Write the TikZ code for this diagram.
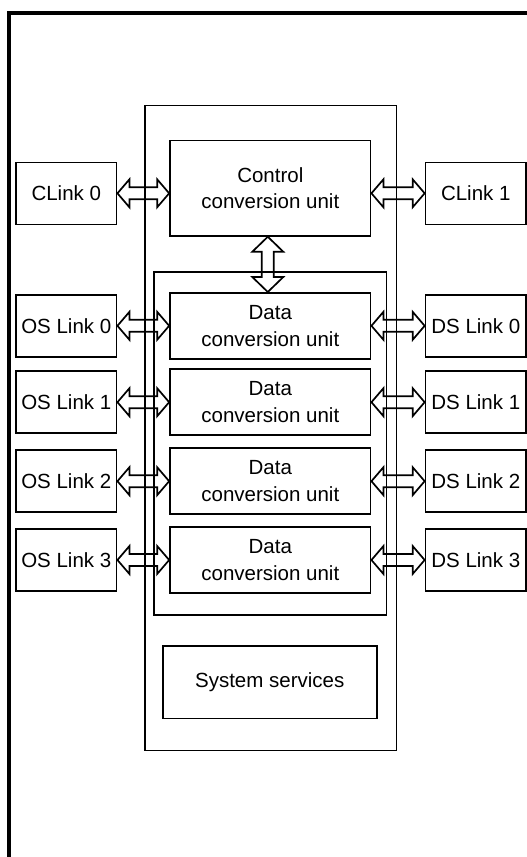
\documentclass[tikz,border=0pt]{standalone}
\usepackage{fontspec}
\setmainfont{Liberation Sans}
\usetikzlibrary{calc}
\tikzset{
  box/.style={draw, line width=1.6pt, inner sep=0pt, align=center,
    font=\fontsize{20.5}{26.5}\selectfont},
  linkbox/.style={box, minimum width=100.7pt, minimum height=62pt},
  unitbox/.style={box, minimum width=200.7pt, minimum height=66pt},
  chip/.style={draw, line width=1.5pt},
  frameline/.style={draw, line width=4pt},
  dbl/.style={draw, line width=1.7pt, line join=miter}
}
\newcommand\dblh[3]{%
  \draw[dbl] let \p1=(#1.east), \p2=(#2.west), \p3=(#3.center) in
  (\x1,\y3) -- (\x1+12pt,\y3+14pt) -- (\x1+12pt,\y3+6pt) -- (\x2-12pt,\y3+6pt)
  -- (\x2-12pt,\y3+14pt) -- (\x2,\y3) -- (\x2-12pt,\y3-14pt) -- (\x2-12pt,\y3-6pt)
  -- (\x1+12pt,\y3-6pt) -- (\x1+12pt,\y3-14pt) -- cycle;}
\newcommand\dblv[2]{%
  \draw[dbl] let \p1=(#1.south), \p2=(#2.north), \n1={\x1-2.5pt} in
  (\n1,\y1) -- (\n1+15.5pt,\y1-15pt) -- (\n1+6pt,\y1-15pt) -- (\n1+6pt,\y2+15pt)
  -- (\n1+15.5pt,\y2+15pt) -- (\n1,\y2) -- (\n1-15.5pt,\y2+15pt) -- (\n1-6pt,\y2+15pt)
  -- (\n1-6pt,\y1-15pt) -- (\n1-15.5pt,\y1-15pt) -- cycle;}
\begin{document}
\begin{tikzpicture}[x=1pt,y=-1pt]
\useasboundingbox (0,0) rectangle (527,857);
% outer frame (cropped)
\draw[frameline] (8.5,857) -- (8.5,13) -- (527,13);
% chip outlines
\draw[chip] (145,105.5) rectangle (396.7,750.5);
\draw[chip] (154,272) rectangle (386.7,615);
% control
\node[box, minimum width=200.7pt, minimum height=95.3pt] (ctrl) at (270.3,188.3) {Control\\conversion unit};
\node[linkbox] (cl0) at (66.3,193.3) {CLink 0};
\node[linkbox] (cl1) at (475.8,193.3) {CLink 1};
% data units
\node[unitbox] (d0) at (270.3,325.8) {Data\\conversion unit};
\node[unitbox] (d1) at (270.3,402.2) {Data\\conversion unit};
\node[unitbox] (d2) at (270.3,481.2) {Data\\conversion unit};
\node[unitbox] (d3) at (270.3,560) {Data\\conversion unit};
\node[linkbox] (os0) at (66.3,325.8) {OS Link 0};
\node[linkbox] (os1) at (66.3,402.2) {OS Link 1};
\node[linkbox] (os2) at (66.3,481.2) {OS Link 2};
\node[linkbox] (os3) at (66.3,560) {OS Link 3};
\node[linkbox] (ds0) at (475.8,325.8) {DS Link 0};
\node[linkbox] (ds1) at (475.8,402.2) {DS Link 1};
\node[linkbox] (ds2) at (475.8,481.2) {DS Link 2};
\node[linkbox] (ds3) at (475.8,560) {DS Link 3};
% system services
\node[box, minimum width=214pt, minimum height=72.6pt] (sys) at (269.7,682) {System services};
% arrows
\dblh{cl0}{ctrl}{cl0}
\dblh{ctrl}{cl1}{cl1}
\dblv{ctrl}{d0}
\dblh{os0}{d0}{os0}
\dblh{os1}{d1}{os1}
\dblh{os2}{d2}{os2}
\dblh{os3}{d3}{os3}
\dblh{d0}{ds0}{ds0}
\dblh{d1}{ds1}{ds1}
\dblh{d2}{ds2}{ds2}
\dblh{d3}{ds3}{ds3}
\end{tikzpicture}
\end{document}
